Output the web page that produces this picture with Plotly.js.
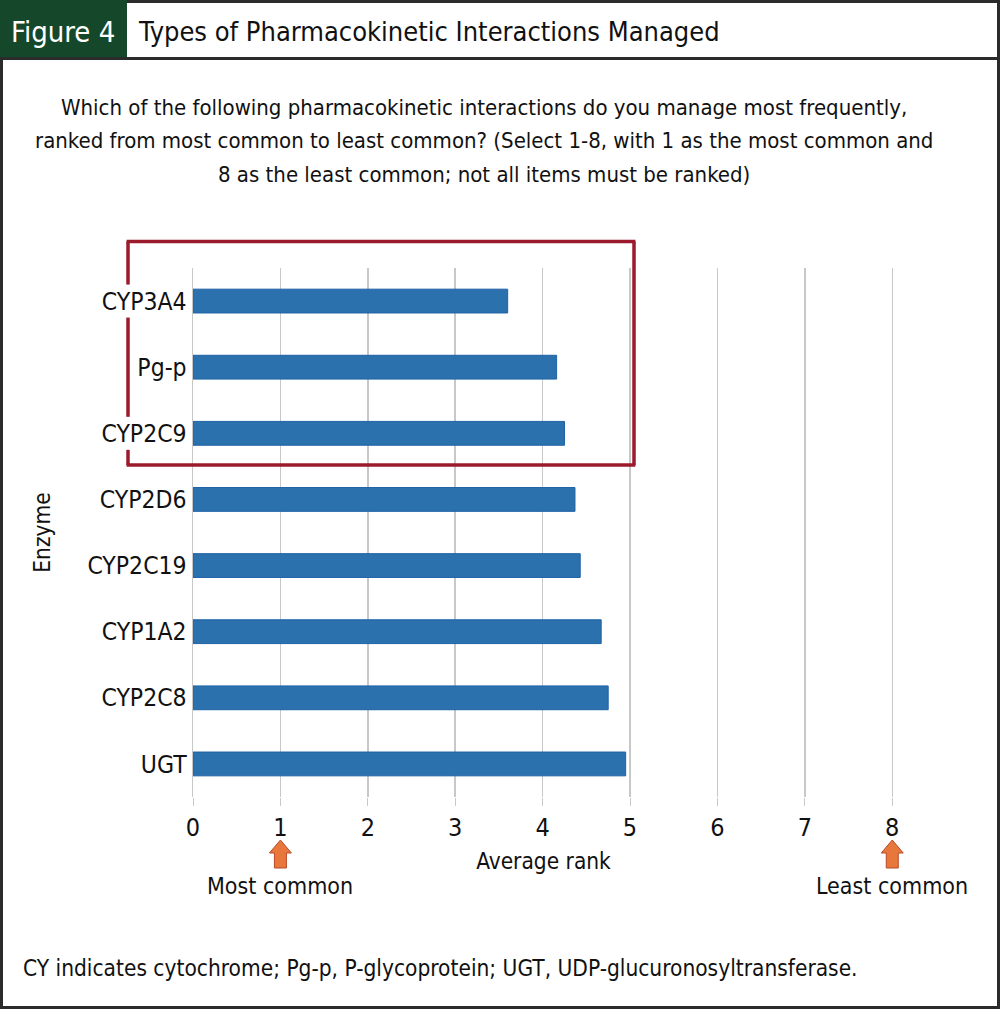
<!DOCTYPE html>
<html>
<head>
<meta charset="utf-8">
<script src="https://cdn.plot.ly/plotly-3.0.1.min.js"></script>
<style>
html,body{margin:0;padding:0;background:#fff;}
#chart{width:1000px;height:1009px;}
</style>
</head>
<body>
<div id="chart"></div>
<script>
// ---- data ----
const enzymes = ["CYP3A4", "Pg-p", "CYP2C9", "CYP2D6", "CYP2C19", "CYP1A2", "CYP2C8", "UGT"];
const averageRank = [3.60, 4.16, 4.25, 4.37, 4.43, 4.67, 4.75, 4.95];
const rankTicks = [0, 1, 2, 3, 4, 5, 6, 7, 8];
const arrowRanks = [1, 8];
const arrowLabels = ["Most common", "Least common"];
const highlighted = ["CYP3A4", "Pg-p", "CYP2C9"];

const figureLabel = "Figure 4";
const figureTitle = "Types of Pharmacokinetic Interactions Managed";
const questionLines = [
  "Which of the following pharmacokinetic interactions do you manage most frequently,",
  "ranked from most common to least common? (Select 1-8, with 1 as the most common and",
  "8 as the least common; not all items must be ranked)"
];
const footnote = "CY indicates cytochrome; Pg-p, P-glycoprotein; UGT, UDP-glucuronosyltransferase.";

// ---- geometry ----
const W = 1000, H = 1009;
const L = 193, R = 894, T = 268, B = 797;
const XMAX = 8.02;
const fx = px => (px - L) / (R - L);
const fy = py => (B - py) / (B - T);
const rankToPaper = r => r / XMAX;
const catToPaper = i => 1 - (i + 0.5) / enzymes.length;
const FONT = "'DejaVu Sans Condensed', 'Liberation Sans Narrow', 'Arial Narrow', sans-serif";

const shapes = [];
const annotations = [];

// outer frame
shapes.push({type:"rect", xref:"paper", yref:"paper", x0:fx(1.5), x1:fx(W-1.5), y0:fy(H-1.5), y1:fy(1.5),
  line:{color:"#2b2b2b", width:3}, fillcolor:"rgba(0,0,0,0)", layer:"above"});
// header green block
shapes.push({type:"rect", xref:"paper", yref:"paper", x0:fx(0), x1:fx(127), y0:fy(58), y1:fy(0),
  line:{width:0}, fillcolor:"#15482a", layer:"above"});
// header bottom line
shapes.push({type:"line", xref:"paper", yref:"paper", x0:fx(0), x1:fx(W), y0:fy(58.5), y1:fy(58.5),
  line:{color:"#2b2b2b", width:3}, layer:"above"});

// highlight box around the top three enzymes (left edge broken behind the labels)
const hiIdx = highlighted.map(h => enzymes.indexOf(h));
const boxColor = "#9b1a2c", boxW = 3.5;
const bx0 = fx(128), bx1 = fx(634), byTop = fy(241.5), byBot = fy(465);
const boxLine = (x0, y0, x1, y1) => shapes.push({type:"line", xref:"paper", yref:"paper", x0, y0, x1, y1,
  line:{color:boxColor, width:boxW}, layer:"above"});
boxLine(bx0 - 0.002, byTop, bx1 + 0.002, byTop);
boxLine(bx1, byTop, bx1, byBot);
boxLine(bx0 - 0.002, byBot, bx1 + 0.002, byBot);
// left edge segments between label gaps
const gapHalf = 0.5 * (33 / (B - T)) ; // half label height in paper units
let segTop = byTop;
[Math.min(...hiIdx), Math.max(...hiIdx)].forEach(i => {
  const c = catToPaper(i);
  boxLine(bx0, segTop, bx0, c + gapHalf);
  segTop = c - gapHalf;
});
boxLine(bx0, segTop, bx0, byBot);

// arrows under the axis
arrowRanks.forEach((r, i) => {
  shapes.push({type:"path", xref:"paper", yref:"paper", xsizemode:"pixel", ysizemode:"pixel",
    xanchor:rankToPaper(r), yanchor:fy(840),
    path:"M0,0 L11,-13 L6,-13 L6,-28 L-6,-28 L-6,-13 L-11,-13 Z",
    fillcolor:"#e8773b", line:{color:"#b94a2a", width:1}, layer:"above"});
  annotations.push({xref:"paper", yref:"paper", x:rankToPaper(r), y:fy(886), text:arrowLabels[i], showarrow:false,
    xanchor:"center", yanchor:"middle", font:{family:FONT, size:23, color:"#111"}});
});

// header texts
annotations.push({xref:"paper", yref:"paper", x:fx(63), y:fy(32), text:figureLabel, showarrow:false,
  xanchor:"center", yanchor:"middle", font:{family:FONT, size:29, color:"#ffffff"}});
annotations.push({xref:"paper", yref:"paper", x:fx(136), y:fy(32), text:figureTitle, showarrow:false,
  xanchor:"left", yanchor:"middle", font:{family:FONT, size:27, color:"#111"}});
// question
questionLines.forEach((t, i) => {
  annotations.push({xref:"paper", yref:"paper", x:fx(484), y:fy(107 + i*33.5), text:t, showarrow:false,
    xanchor:"center", yanchor:"middle", font:{family:FONT, size:22, color:"#111"}});
});
// footnote
annotations.push({xref:"paper", yref:"paper", x:fx(21), y:fy(968), text:footnote, showarrow:false,
  xanchor:"left", yanchor:"middle", font:{family:FONT, size:22.5, color:"#111"}});

const trace = {
  type:"bar", orientation:"h",
  y:enzymes, x:averageRank,
  width:0.36,
  marker:{color:"#2a71ae", line:{color:"#1f62a6", width:1}},
  hoverinfo:"x+y"
};

const layout = {
  width:W, height:H,
  margin:{l:L, r:W-R, t:T, b:H-B, pad:0},
  paper_bgcolor:"#ffffff", plot_bgcolor:"#ffffff",
  showlegend:false,
  font:{family:FONT, color:"#111"},
  xaxis:{
    range:[0, XMAX], tickvals:rankTicks, ticktext:rankTicks.map(String),
    showgrid:true, gridcolor:"#c8c8c8", gridwidth:1.5, zeroline:false,
    ticks:"outside", ticklen:8, tickcolor:"#c8c8c8", tickwidth:1,
    tickfont:{family:FONT, size:25, color:"#111"},
    showline:false,
    title:{text:"Average rank", font:{family:FONT, size:22.5, color:"#111"}, standoff:12}
  },
  yaxis:{
    type:"category", categoryorder:"array", categoryarray:enzymes,
    range:[enzymes.length - 0.5, -0.5],
    showgrid:false, zeroline:false,
    showline:true, linecolor:"#c8c8c8", linewidth:1.5,
    ticks:"", ticklabelstandoff:0,
    tickfont:{family:FONT, size:24.5, color:"#111"},
    title:{text:"Enzyme", font:{family:FONT, size:22.5, color:"#111"}, standoff:30}
  },
  shapes:shapes,
  annotations:annotations
};

Plotly.newPlot("chart", [trace], layout, {displayModeBar:false, staticPlot:true});
</script>
</body>
</html>
